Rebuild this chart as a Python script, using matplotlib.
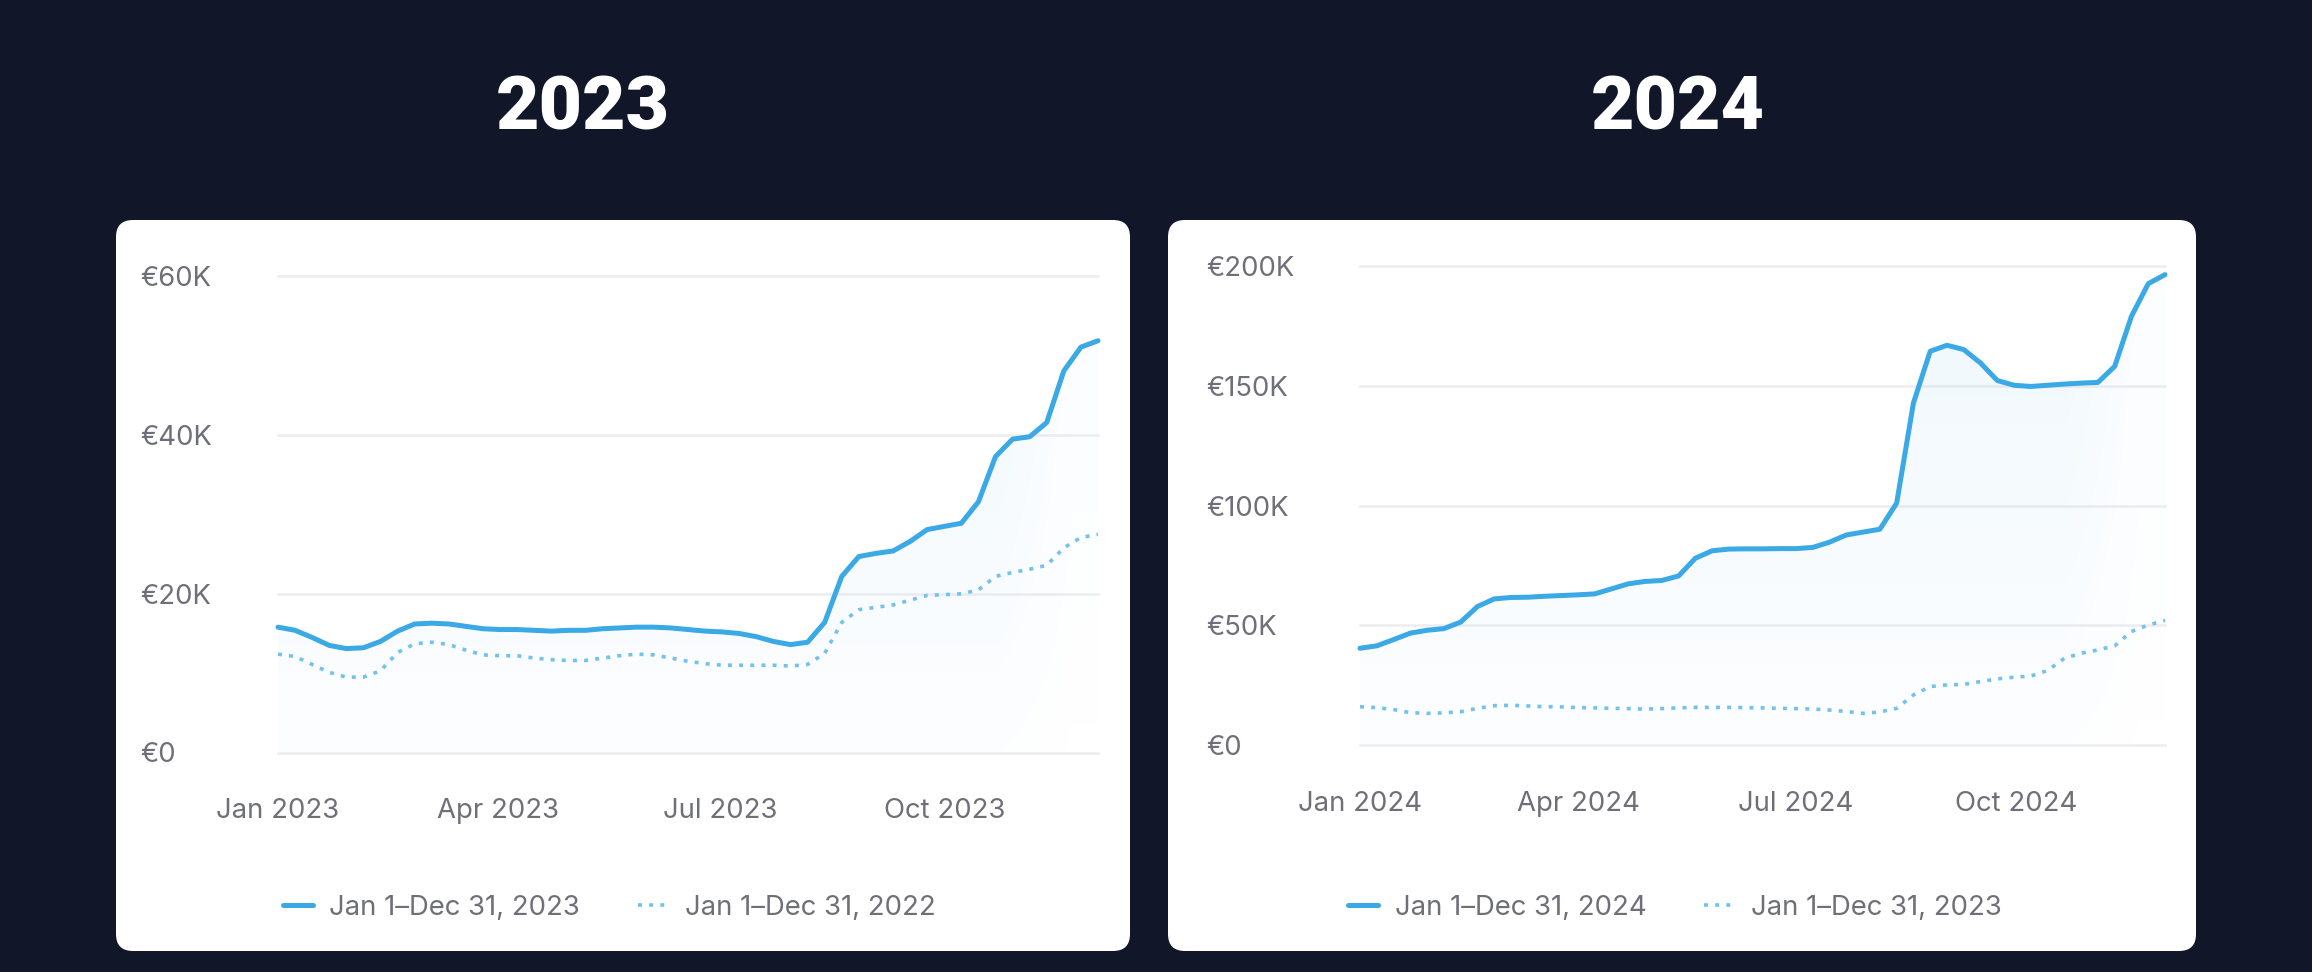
import numpy as np
import pandas as pd
import matplotlib
matplotlib.use("Agg")
import matplotlib.pyplot as plt
import matplotlib.dates as mdates
from matplotlib.patches import FancyBboxPatch
from matplotlib.lines import Line2D
from matplotlib.colors import to_rgb

# ---------------- data (values in € thousands, weekly) ----------------
weeks_2023 = pd.date_range("2023-01-01", periods=49, freq="7D")
weeks_2024 = pd.date_range("2024-01-01", periods=49, freq="7D")

rev_2023 = [15.8, 15.4, 14.5, 13.5, 13.1, 13.2, 14.0, 15.3, 16.2, 16.3,
            16.2, 15.9, 15.6, 15.5, 15.5, 15.4, 15.3, 15.4, 15.4, 15.6,
            15.7, 15.8, 15.8, 15.7, 15.5, 15.3, 15.2, 15.0, 14.6, 14.0,
            13.6, 13.9, 16.4, 22.2, 24.7, 25.1, 25.4, 26.6, 28.1, 28.5,
            28.9, 31.6, 37.3, 39.5, 39.8, 41.6, 48.1, 51.1, 51.9]
rev_2022 = [12.4, 12.1, 11.1, 10.1, 9.5, 9.5, 10.3, 12.6, 13.7, 13.9,
            13.6, 12.9, 12.3, 12.2, 12.2, 11.9, 11.7, 11.6, 11.6, 11.9,
            12.2, 12.4, 12.3, 11.9, 11.5, 11.2, 11.0, 11.0, 11.0, 11.0,
            10.9, 11.1, 12.5, 16.4, 18.0, 18.3, 18.6, 19.2, 19.8, 19.9,
            20.0, 20.5, 22.2, 22.7, 23.1, 23.6, 25.8, 27.1, 27.5]
rev_2024 = [40.4, 41.4, 44.0, 46.7, 47.9, 48.6, 51.3, 57.8, 61.0, 61.6,
            61.7, 62.1, 62.4, 62.7, 63.1, 65.2, 67.3, 68.3, 68.7, 70.6,
            78.0, 81.1, 81.8, 81.9, 81.9, 82.0, 82.0, 82.5, 84.7, 87.7,
            88.9, 90.1, 101.0, 142.8, 164.4, 166.9, 165.1, 159.5, 152.2, 150.2,
            149.7, 150.2, 150.7, 151.1, 151.4, 158.1, 179.0, 192.6, 196.4]
rev_2023_cmp = [16.0, 15.6, 14.8, 13.5, 13.2, 13.4, 13.9, 15.3, 16.4, 16.6,
                16.3, 16.0, 15.9, 15.6, 15.5, 15.3, 15.2, 15.0, 15.2, 15.5,
                15.7, 15.7, 15.7, 15.6, 15.5, 15.3, 15.2, 15.0, 14.6, 14.0,
                13.2, 13.8, 15.3, 20.9, 24.4, 25.1, 25.3, 26.5, 27.6, 28.3,
                28.8, 31.1, 36.2, 38.3, 39.7, 41.4, 47.4, 50.1, 52.0]

titles = ["2023", "2024"]
yticks_2023 = [0, 20, 40, 60]
ylabels_2023 = ["€0", "€20K", "€40K", "€60K"]
yticks_2024 = [0, 50, 100, 150, 200]
ylabels_2024 = ["€0", "€50K", "€100K", "€150K", "€200K"]
legend_2023 = ["Jan 1\u2013Dec 31, 2023", "Jan 1\u2013Dec 31, 2022"]
legend_2024 = ["Jan 1\u2013Dec 31, 2024", "Jan 1\u2013Dec 31, 2023"]

# ---------------- style ----------------
W, H, DPI = 2312, 972, 100
BG = "#121629"
LINE = "#3aa9e6"
DOT = "#72c1ee"
TXT = "#6f6f79"
GRID = "#eeeef1"
PT = 72.0 / DPI  # points per pixel
FONT = "Inter"
DOT_LW = 3.6 * PT
DOT_STYLE = (0, (1.1, 2.0))

fig = plt.figure(figsize=(W / DPI, H / DPI), dpi=DPI, facecolor=BG)

bg = fig.add_axes([0, 0, 1, 1], zorder=0)
bg.set_xlim(0, W)
bg.set_ylim(H, 0)
bg.axis("off")
for (x0, w) in [(116, 1014), (1168, 1028)]:
    bg.add_patch(FancyBboxPatch((x0, 220), w, 731,
                                boxstyle="round,pad=0,rounding_size=17",
                                fc="white", ec="none"))


def fig_rect(l, r, b, t):
    return [l / W, 1 - b / H, (r - l) / W, (b - t) / H]


def panel(rect, dates, cur, prev, ymax, yticks, ylabels, ylab_left_px,
          leg_labels, leg_cx, title, title_cx):
    ax = fig.add_axes(fig_rect(*rect), zorder=2)
    ax.set_facecolor("none")
    x = dates.values
    # gradient fill under current series
    poly = ax.fill_between(x, cur, 0, color="none", lw=0)
    xn = mdates.date2num(x)
    ny, nx = 200, 300
    yy = np.linspace(0, 1, ny)[:, None]
    xx = np.linspace(0, 1, nx)[None, :]
    alpha = (0.012 + 0.07 * yy) * np.clip((1.0 - xx) / 0.12, 0.25, 1.0)
    rgba = np.zeros((ny, nx, 4))
    rgba[..., :3] = to_rgb(LINE)
    rgba[..., 3] = alpha
    im = ax.imshow(rgba, extent=[xn[0], xn[-1], 0, ymax], origin="lower",
                   aspect="auto", zorder=1, interpolation="bilinear")
    im.set_clip_path(poly.get_paths()[0], transform=ax.transData)

    for yt in yticks:
        ax.axhline(yt, color=GRID, lw=2.6 * PT, zorder=0.5, clip_on=False)

    ax.plot(x, prev, color=DOT, lw=DOT_LW, ls=DOT_STYLE,
            dash_capstyle="butt", zorder=3, clip_on=False)
    ax.plot(x, cur, color=LINE, lw=5 * PT, solid_capstyle="round",
            solid_joinstyle="round", zorder=4, clip_on=False)

    ax.set_xlim(x[0], x[-1])
    ax.set_ylim(0, ymax)
    for s in ax.spines.values():
        s.set_visible(False)
    ax.set_yticks(yticks)
    ax.set_yticklabels(ylabels, ha="left", family=FONT, fontsize=19.8,
                       color=TXT)
    ax.tick_params(axis="y", length=0, pad=(rect[0] - ylab_left_px) * PT)
    ax.xaxis.set_major_locator(mdates.MonthLocator(bymonth=[1, 4, 7, 10]))
    ax.xaxis.set_major_formatter(mdates.DateFormatter("%b %Y"))
    ax.tick_params(axis="x", length=0, pad=46 * PT, labelsize=19.8,
                   labelcolor=TXT)
    for lab in ax.get_xticklabels():
        lab.set_family(FONT)

    handles = [Line2D([], [], color=LINE, lw=5 * PT, solid_capstyle="round"),
               Line2D([], [], color=DOT, lw=DOT_LW, ls=DOT_STYLE,
                      dash_capstyle="butt")]
    leg = ax.legend(handles, leg_labels, loc="center",
                    bbox_to_anchor=(leg_cx / W, 1 - 908 / H),
                    bbox_transform=fig.transFigure, ncol=2, frameon=False,
                    handlelength=1.1, handletextpad=0.6, columnspacing=2.1,
                    prop={"family": FONT, "size": 19.8})
    for t in leg.get_texts():
        t.set_color(TXT)

    fig.text(title_cx / W, 1 - 129 / H, title, ha="center", va="baseline",
             color="white", family="Roboto", fontweight="heavy", fontsize=54)
    return ax


panel((278, 1098, 752.5, 276.5), weeks_2023, rev_2023, rev_2022, 60,
      yticks_2023, ylabels_2023, 140, legend_2023, 609, titles[0], 583)
panel((1360, 2165, 745, 266), weeks_2024, rev_2024, rev_2023_cmp, 200,
      yticks_2024, ylabels_2024, 1206, legend_2024, 1675, titles[1], 1678)

fig.savefig("out.png", dpi=DPI, facecolor=BG)
